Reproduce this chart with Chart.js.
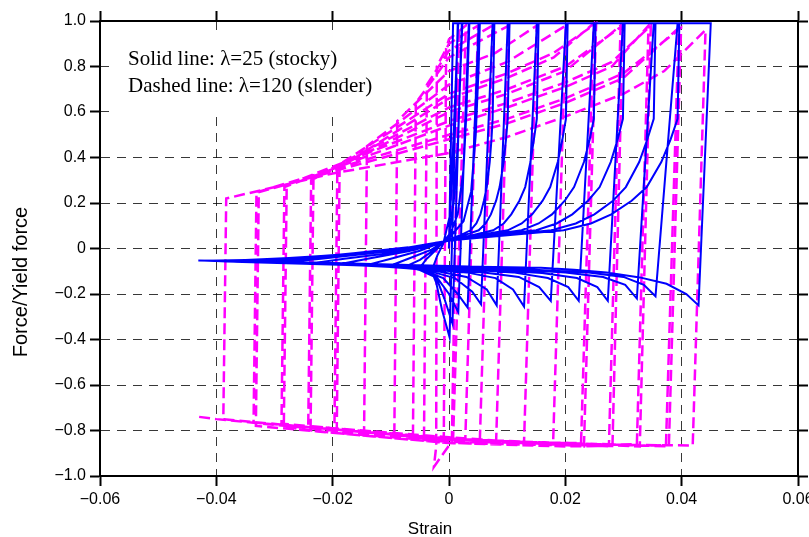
<!DOCTYPE html>
<html>
<head>
<meta charset="utf-8">
<script src="https://cdn.jsdelivr.net/npm/chart.js@4/dist/chart.umd.min.js"></script>
<style>
  html, body { margin: 0; padding: 0; background: #fff; }
  #wrap { width: 809px; height: 537px; position: relative; }
</style>
</head>
<body>
<div id="wrap"><canvas id="hysteresis"></canvas></div>
<script>
// strain / (force / yield force) pairs, in loading order
const solidPath = [
  [0, 0], [0.0007, 0.99], [0.0015, 0.99], [0.0001, -0.39], [-0.0012, -0.27], [-0.0022, -0.15], [-0.003, -0.1],
  [-0.002, -0.03], [-0.001, 0.02], [0.0002, 0.15], [0.0008, 0.5], [0.0015, 0.95], [0.0016, 0.99], [0.0022, 0.99],
  [0.0006, -0.33], [-0.0008, -0.22], [-0.002, -0.14], [-0.0035, -0.1], [-0.005, -0.085],
  [-0.004, -0.05], [-0.002, 0.0], [0.0, 0.06], [0.0008, 0.2], [0.0015, 0.45], [0.002, 0.8], [0.0023, 0.99], [0.0034, 0.99],
  [0.0016, -0.28], [0.0, -0.2], [-0.002, -0.13], [-0.005, -0.095], [-0.0075, -0.08],
  [-0.005, -0.05], [-0.0025, -0.005], [0.0, 0.05], [0.0015, 0.15], [0.0025, 0.35], [0.003, 0.6], [0.0035, 0.99], [0.0051, 0.99],
  [0.0032, -0.26], [0.0015, -0.2], [-0.001, -0.13], [-0.005, -0.09], [-0.01, -0.075],
  [-0.007, -0.045], [-0.003, -0.005], [0.0, 0.045], [0.0025, 0.12], [0.0038, 0.25], [0.0046, 0.5], [0.0051, 0.8], [0.0053, 0.99], [0.0075, 0.99],
  [0.0055, -0.245], [0.004, -0.19], [0.001, -0.13], [-0.004, -0.095], [-0.01, -0.08], [-0.014, -0.072],
  [-0.01, -0.045], [-0.005, -0.01], [0.0, 0.04], [0.0021, 0.06], [0.0037, 0.08], [0.0047, 0.11], [0.0054, 0.15], [0.006, 0.21], [0.0065, 0.27], [0.007, 0.38], [0.0073, 0.48], [0.0075, 0.57], [0.0078, 0.99], [0.0101, 0.99],
  [0.0082, -0.25], [0.0065, -0.18], [0.003, -0.125], [-0.003, -0.095], [-0.012, -0.078], [-0.019, -0.07],
  [-0.014, -0.045], [-0.007, -0.012], [-0.002, 0.02], [0.0, 0.038], [0.0028, 0.06], [0.0051, 0.08], [0.0063, 0.11], [0.0072, 0.15], [0.0081, 0.21], [0.0087, 0.27], [0.0094, 0.38], [0.0098, 0.48], [0.0101, 0.57], [0.0104, 0.99], [0.0151, 0.99],
  [0.0129, -0.255], [0.011, -0.18], [0.008, -0.13], [0.003, -0.105], [-0.005, -0.088], [-0.015, -0.075], [-0.024, -0.067],
  [-0.018, -0.045], [-0.01, -0.02], [-0.004, 0.005], [0.0, 0.035], [0.0042, 0.06], [0.0076, 0.08], [0.0094, 0.11], [0.0107, 0.15], [0.0121, 0.21], [0.0131, 0.27], [0.014, 0.38], [0.0146, 0.48], [0.0151, 0.57], [0.0154, 0.99], [0.0201, 0.99],
  [0.0175, -0.23], [0.0155, -0.17], [0.012, -0.125], [0.006, -0.105], [-0.002, -0.09], [-0.015, -0.075], [-0.029, -0.063],
  [-0.022, -0.045], [-0.013, -0.02], [-0.005, 0.008], [0.0, 0.035], [0.0056, 0.06], [0.0101, 0.08], [0.0125, 0.11], [0.0143, 0.15], [0.0161, 0.21], [0.0174, 0.27], [0.0187, 0.38], [0.0195, 0.48], [0.0201, 0.57], [0.0204, 0.99], [0.0249, 0.99],
  [0.0223, -0.23], [0.0205, -0.17], [0.017, -0.13], [0.011, -0.105], [0.002, -0.09], [-0.012, -0.077], [-0.033, -0.06],
  [-0.026, -0.047], [-0.015, -0.022], [-0.006, 0.008], [0.0, 0.035], [0.007, 0.06], [0.0125, 0.08], [0.0154, 0.11], [0.0177, 0.15], [0.0199, 0.21], [0.0215, 0.27], [0.0232, 0.38], [0.0242, 0.48], [0.0249, 0.57], [0.0252, 0.99], [0.0299, 0.99],
  [0.0273, -0.23], [0.0255, -0.17], [0.022, -0.13], [0.016, -0.108], [0.006, -0.092], [-0.01, -0.078], [-0.037, -0.058],
  [-0.03, -0.048], [-0.018, -0.025], [-0.007, 0.005], [0.0, 0.035], [0.0084, 0.06], [0.015, 0.08], [0.0185, 0.11], [0.0212, 0.15], [0.0239, 0.21], [0.0259, 0.27], [0.0278, 0.38], [0.029, 0.48], [0.0299, 0.57], [0.0302, 0.99], [0.0352, 0.99],
  [0.0323, -0.22], [0.0303, -0.16], [0.0265, -0.125], [0.02, -0.105], [0.01, -0.09], [-0.01, -0.075], [-0.04, -0.056],
  [-0.033, -0.05], [-0.02, -0.03], [-0.008, 0.0], [0.0, 0.035], [0.0099, 0.06], [0.0176, 0.08], [0.0218, 0.11], [0.025, 0.15], [0.0282, 0.21], [0.0304, 0.27], [0.0327, 0.38], [0.0341, 0.48], [0.0352, 0.57], [0.0355, 0.99], [0.0393, 0.99],
  [0.0355, -0.21], [0.0335, -0.16], [0.03, -0.125], [0.024, -0.105], [0.012, -0.09], [-0.01, -0.072], [-0.042, -0.054],
  [-0.035, -0.05], [-0.02, -0.033], [-0.01, -0.012], [-0.004, 0.012], [0.0, 0.035], [0.011, 0.06], [0.0197, 0.08], [0.0244, 0.11], [0.0279, 0.15], [0.0314, 0.21], [0.034, 0.27], [0.0365, 0.38], [0.0381, 0.48], [0.0393, 0.57], [0.0396, 0.99], [0.045, 0.99],
  [0.0429, -0.25], [0.0408, -0.2], [0.0374, -0.155], [0.0328, -0.127], [0.0271, -0.105], [0.0215, -0.093], [0.0158, -0.085], [0.005, -0.08], [-0.01, -0.07], [-0.025, -0.06], [-0.0431, -0.053]
];

const dashedPath = [
  [0, 0], [0.0017, 0.97], [0.0005, -0.84], [-0.0009, -0.85],
  [-0.0005, 0.88], [0, 0.92], [0.0029, 0.98], [0.0007, -0.84],
  [-0.0026, -0.96], [-0.0022, -0.87], [-0.0021, 0.8], [0, 0.9], [0.005, 0.98], [0.0028, -0.84],
  [-0.0043, -0.84], [-0.0038, 0.72], [0, 0.87], [0.0075, 0.98], [0.0053, -0.845],
  [0, -0.84], [-0.0062, -0.83], [-0.0057, 0.64], [0, 0.84], [0.0103, 0.98], [0.0081, -0.85],
  [0, -0.84], [-0.0094, -0.82], [-0.0089, 0.56], [0, 0.78], [0.008, 0.86], [0.0151, 0.98], [0.0129, -0.85],
  [0, -0.835], [-0.0146, -0.805], [-0.0141, 0.45], [0, 0.72], [0.01, 0.82], [0.0201, 0.98], [0.0179, -0.855],
  [0, -0.835], [-0.0197, -0.795], [-0.0192, 0.35], [0, 0.66], [0.01, 0.75], [0.018, 0.84], [0.0249, 0.99], [0.0227, -0.855],
  [0, -0.85], [-0.0193, -0.81], [-0.0188, 0.37], [0, 0.68], [0.01, 0.77], [0.018, 0.86], [0.0253, 0.99], [0.0232, -0.87],
  [0, -0.83], [-0.02, -0.79], [-0.0242, -0.78], [-0.0237, 0.3], [0, 0.6], [0.01, 0.68], [0.02, 0.78], [0.0295, 0.98], [0.0275, -0.86],
  [0, -0.855], [-0.02, -0.81], [-0.0238, -0.8], [-0.0233, 0.31], [0, 0.62], [0.01, 0.7], [0.02, 0.8], [0.0299, 0.98], [0.0281, -0.87],
  [0, -0.835], [-0.02, -0.79], [-0.0288, -0.77], [-0.0283, 0.27], [0, 0.54], [0.01, 0.62], [0.02, 0.71], [0.028, 0.8], [0.0343, 0.98], [0.0323, -0.86],
  [0.02, -0.865], [0, -0.855], [-0.02, -0.81], [-0.0284, -0.785], [-0.0279, 0.28], [0, 0.56], [0.01, 0.64], [0.02, 0.73], [0.028, 0.82], [0.0347, 0.98], [0.0328, -0.87],
  [0.02, -0.855], [0, -0.84], [-0.02, -0.795], [-0.0336, -0.765], [-0.0331, 0.245], [0, 0.48], [0.01, 0.55], [0.02, 0.64], [0.03, 0.75], [0.0395, 0.97], [0.0373, -0.865],
  [0.02, -0.87], [0, -0.855], [-0.02, -0.81], [-0.0332, -0.78], [-0.0327, 0.25], [0, 0.5], [0.01, 0.57], [0.02, 0.66], [0.03, 0.77], [0.0399, 0.97], [0.0378, -0.87],
  [0.02, -0.855], [0, -0.84], [-0.02, -0.795], [-0.0388, -0.75], [-0.0383, 0.22], [-0.02, 0.33], [0, 0.42], [0.01, 0.49], [0.02, 0.58], [0.03, 0.68], [0.037, 0.78], [0.0441, 0.96], [0.0419, -0.866],
  [0.02, -0.86], [0, -0.845], [-0.02, -0.8], [-0.04, -0.75], [-0.043, -0.74]
];

const legendLines = ['Solid line: \u03bb=25 (stocky)', 'Dashed line: \u03bb=120 (slender)'];
const xTitle = 'Strain';
const yTitle = 'Force/Yield force';
const xRange = [-0.06, 0.06];
const yRange = [-1, 1];

const MINUS = '\u2212';
const fmt = (v, digits) => {
  if (Math.abs(v) < 1e-9) return '0';
  return v.toFixed(digits).replace('-', MINUS);
};

const gridColor = (lo, hi) => (ctx) => {
  const v = ctx.tick ? ctx.tick.value : 0;
  return (Math.abs(v - lo) < 1e-9 || Math.abs(v - hi) < 1e-9) ? 'rgba(0,0,0,0)' : 'rgba(0,0,0,0.78)';
};

const fixBox = (size, horizontal) => (s) => {
  if (horizontal) s.height = size; else s.width = size;
  s.paddingLeft = 0; s.paddingRight = 0; s.paddingTop = 0; s.paddingBottom = 0;
};

const tickFont = { family: '"Liberation Sans", Arial, sans-serif', size: 16 };

const annotate = {
  id: 'annotate',
  beforeDatasetsDraw(chart) {
    const { ctx, chartArea } = chart;
    ctx.save();
    ctx.fillStyle = '#fff';
    ctx.fillRect(chartArea.left + 9, chartArea.top + 9, 289, 86);
    ctx.fillStyle = '#000';
    ctx.font = '21px "Liberation Serif", "Times New Roman", serif';
    ctx.textAlign = 'left';
    ctx.textBaseline = 'alphabetic';
    legendLines.forEach((t, i) => ctx.fillText(t, chartArea.left + 28, chartArea.top + 44 + i * 27));
    ctx.restore();
  },
  afterDraw(chart) {
    const { ctx } = chart;
    ctx.save();
    ctx.fillStyle = '#000';
    ctx.font = '17px "Liberation Sans", Arial, sans-serif';
    ctx.textAlign = 'center';
    ctx.textBaseline = 'alphabetic';
    ctx.fillText(xTitle, 430, 534);
    ctx.font = '20px "Liberation Sans", Arial, sans-serif';
    ctx.translate(21, 282);
    ctx.rotate(-Math.PI / 2);
    ctx.textBaseline = 'middle';
    ctx.fillText(yTitle, 0, 0);
    ctx.restore();
  }
};

new Chart(document.getElementById('hysteresis'), {
  type: 'scatter',
  data: {
    datasets: [
      {
        label: 'Solid line',
        data: solidPath.map(([x, y]) => ({ x, y })),
        showLine: true,
        borderColor: '#0000ff',
        borderWidth: 2,
        pointRadius: 0,
        tension: 0,
      },
      {
        label: 'Dashed line',
        data: dashedPath.map(([x, y]) => ({ x, y })),
        showLine: true,
        borderColor: '#ff00ff',
        borderWidth: 2.5,
        borderDash: [11, 5],
        pointRadius: 0,
        tension: 0,
      },
    ],
  },
  options: {
    responsive: true,
    maintainAspectRatio: false,
    animation: false,
    devicePixelRatio: 1,
    layout: { padding: 0 },
    plugins: { legend: { display: false }, tooltip: { enabled: false } },
    scales: {
      x: {
        type: 'linear', position: 'bottom', min: xRange[0], max: xRange[1],
        afterFit: fixBox(61, true),
        ticks: { stepSize: 0.02, color: '#000', font: tickFont, padding: 4, maxRotation: 0, autoSkip: false, callback: (v) => fmt(v, 2) },
        grid: { color: gridColor(xRange[0], xRange[1]), lineWidth: 1, tickLength: 10, tickWidth: 2, tickColor: '#000' },
        border: { display: true, color: '#000', width: 2, dash: [9, 7] },
      },
      x2: {
        type: 'linear', position: 'top', min: xRange[0], max: xRange[1],
        afterFit: fixBox(21, true),
        ticks: { stepSize: 0.02, display: false },
        grid: { drawOnChartArea: false, tickLength: 10, tickWidth: 2, tickColor: '#000' },
        border: { display: true, color: '#000', width: 2 },
      },
      y: {
        type: 'linear', position: 'left', min: yRange[0], max: yRange[1],
        afterFit: fixBox(100, false),
        ticks: { stepSize: 0.2, color: '#000', font: tickFont, padding: 4, autoSkip: false, callback: (v) => fmt(v, 1) },
        grid: { color: gridColor(yRange[0], yRange[1]), lineWidth: 1, tickLength: 10, tickWidth: 2, tickColor: '#000' },
        border: { display: true, color: '#000', width: 2, dash: [9, 7] },
      },
      y2: {
        type: 'linear', position: 'right', min: yRange[0], max: yRange[1],
        afterFit: fixBox(11, false),
        ticks: { stepSize: 0.2, display: false },
        grid: { drawOnChartArea: false, tickLength: 10, tickWidth: 2, tickColor: '#000' },
        border: { display: true, color: '#000', width: 2 },
      },
    },
  },
  plugins: [annotate],
});
</script>
</body>
</html>
